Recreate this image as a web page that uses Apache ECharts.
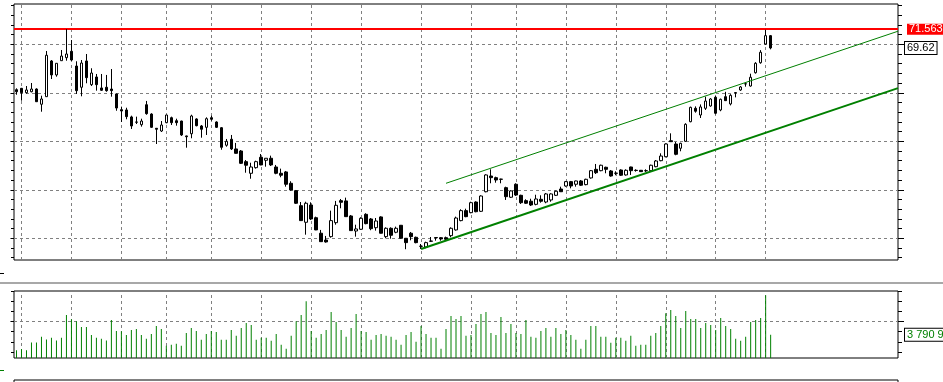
<!DOCTYPE html>
<html><head><meta charset="utf-8">
<script src="https://cdn.jsdelivr.net/npm/echarts@6/dist/echarts.min.js"></script>
<style>html,body{margin:0;padding:0;background:#fff;}#c{width:943px;height:382px;}</style>
</head><body><div id="c"></div>
<script>
// ---- data ----
const opens = [65.32,65.46,65.01,65.11,65.39,63.82,64.60,68.28,66.84,68.31,
68.62,69.28,67.76,65.57,68.28,65.84,66.63,65.50,65.57,65.39,
64.88,63.26,63.23,62.51,61.99,61.71,63.77,62.81,61.34,61.06,
61.92,62.43,62.12,62.09,60.55,60.78,62.30,61.58,61.44,62.43,
61.99,61.40,59.59,60.21,59.21,59.00,57.90,56.70,57.28,58.35,
58.04,58.25,57.35,56.70,56.84,55.67,54.91,53.36,51.65,53.43,
52.12,50.52,49.82,50.17,51.61,53.88,53.85,52.30,50.75,50.93,
52.47,51.99,51.09,52.20,50.17,51.03,50.62,51.34,50.00,50.52,
50.10,49.18,49.10,49.69,50.08,50.06,50.06,50.27,50.86,51.82,
52.85,52.64,53.74,52.78,54.80,56.42,56.25,56.10,55.22,54.23,
55.57,54.43,53.88,53.82,53.50,54.02,53.74,53.95,54.43,55.08,
55.39,55.84,55.57,55.91,55.53,56.22,57.11,56.97,57.32,56.94,
56.72,57.04,56.53,57.35,57.01,57.01,56.97,56.97,57.38,58.00,
58.41,60.06,59.72,59.28,60.00,62.02,63.40,62.71,63.40,63.64,
64.54,63.23,64.60,63.85,65.02,65.29,65.91,65.70,67.07,68.10,
70.03,70.89];
const closes = [65.11,65.01,65.29,65.39,64.08,64.36,68.87,66.84,68.04,68.79,
69.00,68.38,65.22,68.07,66.56,67.04,65.84,65.26,65.22,65.22,
63.43,63.12,62.54,61.58,61.97,62.09,62.85,61.44,61.24,61.68,
62.71,61.92,61.92,60.65,60.47,62.61,61.61,61.24,62.33,62.27,
61.44,59.38,60.00,59.21,58.76,57.73,57.53,57.35,57.90,57.56,
58.25,57.56,56.70,56.50,55.57,54.98,53.61,51.82,53.61,51.99,
50.86,49.65,49.62,51.82,53.40,53.71,52.23,50.79,50.96,52.06,
51.51,50.99,51.78,50.52,51.03,50.31,51.03,50.00,49.55,50.17,
49.55,49.17,49.55,49.72,50.06,49.93,49.90,51.03,52.09,52.85,
52.23,53.67,52.74,54.36,56.53,56.25,56.01,56.08,54.29,54.88,
54.46,53.67,53.61,53.43,54.05,53.82,54.57,54.57,54.85,54.80,
55.84,55.39,55.91,55.47,56.08,56.97,56.76,57.53,57.11,56.42,
56.70,56.50,57.01,56.97,56.99,56.87,56.96,57.53,57.97,58.48,
59.72,59.96,58.66,59.79,61.75,63.50,63.10,63.54,64.15,64.36,
62.89,64.33,64.19,64.74,65.00,65.60,65.93,66.60,68.04,69.18,
70.89,69.62];
const lows = [64.80,64.19,64.91,65.05,64.05,63.05,64.58,66.42,66.66,68.29,
68.31,68.28,64.88,64.64,65.98,65.70,65.22,65.19,65.11,64.60,
63.15,61.99,62.27,61.27,61.78,61.51,62.74,61.37,59.72,60.96,
61.86,61.68,61.61,60.55,59.34,60.31,61.54,60.37,60.65,62.12,
61.37,59.13,59.44,59.10,58.74,57.66,56.76,56.14,57.18,57.53,
57.38,57.45,56.60,56.29,55.32,54.91,53.54,51.78,50.37,51.89,
50.84,49.63,49.55,50.06,51.40,53.09,52.20,50.77,50.17,50.86,
51.44,50.83,50.79,50.50,50.00,49.96,50.52,49.98,48.87,49.79,
49.48,48.90,48.97,49.62,49.75,49.75,49.82,50.10,50.79,51.75,
52.17,52.58,52.68,52.71,54.74,55.67,55.73,55.67,53.95,54.16,
54.36,53.54,53.54,53.33,53.40,53.67,53.61,53.77,54.36,54.77,
55.32,55.15,55.32,55.39,55.46,56.15,56.63,56.91,56.70,56.35,
56.50,56.42,56.46,56.53,56.87,56.84,56.84,56.87,57.32,57.94,
58.35,59.93,58.56,58.97,59.93,61.96,62.95,62.40,63.23,63.57,
62.78,63.10,64.15,63.70,64.53,65.20,65.63,65.63,66.98,68.00,
69.96,69.48];
const highs = [65.46,65.50,65.70,66.01,65.46,64.70,69.31,68.38,68.06,69.41,
71.5638,70.44,68.25,68.38,69.00,67.53,66.94,66.94,66.84,67.45,
64.90,63.57,63.46,62.64,62.54,62.33,64.16,62.89,61.37,62.09,
62.73,62.54,62.33,62.12,60.58,62.74,62.37,61.68,62.47,62.64,
62.06,61.47,60.24,60.65,59.83,59.10,58.07,57.79,58.00,58.69,
58.27,58.52,57.56,57.18,56.94,55.88,54.98,53.74,53.77,53.71,
52.23,50.86,50.24,52.85,53.85,54.05,54.19,52.40,51.40,52.17,
52.58,52.09,52.09,52.27,51.13,51.13,51.20,51.37,50.03,50.65,
50.17,49.41,49.65,50.13,50.10,50.13,50.17,51.13,52.23,52.99,
53.05,53.77,53.81,54.43,56.60,57.11,56.35,56.14,55.32,54.95,
55.67,54.49,54.02,54.08,54.49,54.43,54.67,54.64,54.91,55.32,
55.91,55.91,55.94,56.01,56.14,57.04,57.66,57.59,57.38,57.04,
56.91,57.11,57.11,57.38,57.11,57.04,57.11,57.59,58.07,58.76,
59.79,60.82,59.93,59.85,61.86,63.57,63.60,63.80,64.60,64.45,
64.67,64.40,65.10,64.86,65.08,65.70,66.04,66.97,68.16,69.40,
71.50,70.96];
const volumes = [1249000,1459000,1249000,2546000,2546000,3454000,3032000,3292000,2870000,3292000,
7021000,6324000,6000000,5076000,5076000,3778000,3292000,3130000,2870000,6211000,
4427000,4378000,3778000,4589000,4751000,3778000,3130000,3940000,5238000,4751000,
1995000,2157000,2319000,1995000,4103000,4913000,4427000,2968000,3940000,4427000,
4265000,2968000,2968000,4589000,3616000,4913000,5724000,5400000,2968000,3292000,
3292000,2805000,3940000,2157000,1508000,3616000,6000000,7021000,9292000,4427000,
3292000,3940000,4589000,7508000,5886000,4589000,3454000,4913000,7184000,4427000,
4265000,2968000,3778000,3940000,3616000,3454000,2968000,2157000,3778000,4265000,
2643000,5238000,3940000,3292000,3292000,1508000,4751000,6859000,6373000,6859000,
3616000,3778000,5562000,7184000,7508000,4103000,3778000,6697000,4103000,5562000,
4103000,3940000,6211000,3454000,3292000,4427000,4913000,3454000,4913000,3940000,
4589000,3778000,2968000,1508000,2968000,5238000,5238000,3454000,3454000,2481000,
3292000,3292000,2805000,3616000,1995000,2157000,2157000,3616000,4103000,5238000,
7297000,7832000,6859000,4913000,7670000,6373000,6373000,4913000,5724000,5400000,
4589000,6535000,5238000,4751000,3130000,2805000,3454000,5886000,6211000,6535000,
10265000,3790900];
const totalSlots = 177;                  // bar slots on the time axis (152 bars + empty space)
const gridBars = [1,11,21,30,39,49,59,69,81,91,100,110,120,130,140,150];
const priceMajorTicks = [50,55,60,65,70];
const priceMinorTicks = [48,49,50,51,52,53,54,55,56,57,58,59,60,61,62,63,64,65,66,67,68,69,70,71,72,73,74];
const priceMin = 47.76, priceMax = 74.155;
const volumeMajorTicks = [6000000];
const volumeMinorTicks = [980000,2620000,4370000,6000000,7640000,9270000,10910000];
const volumeMax = 10950000;
const resistanceLevel = 71.5638;
const supportLine = [[81, 48.90],[176.5, 65.48]];
const channelLine = [[86, 55.67],[176.5, 71.35]];

// ---- build chart ----
const cats = Array.from({length: totalSlots}, (_, i) => String(i));
const candleData = opens.map((o, i) => [o, closes[i], lows[i], highs[i]]);
const lastPrice = closes[closes.length - 1];
const lastVolume = volumes[volumes.length - 1];
const FONT = "'Liberation Sans','Arimo',Arial,sans-serif";
const dashStyle = {color:'#808080', width:1, type:[3,3]};
const hiddenLine = {color:'rgba(0,0,0,0)', width:1, type:'solid'};

function tickAxis(gridIndex, position, min, max, values, len) {
  return {type:'value', gridIndex, position, min, max,
    axisLine:{show:false}, splitLine:{show:false}, axisLabel:{show:false},
    axisTick:{show:true, length:len, lineStyle:{color:'#000', width:1}, customValues: values}};
}
function hiddenCat(gridIndex, position) {
  return {type:'category', gridIndex, position, data:cats, boundaryGap:true,
    axisLine:{show:false}, axisTick:{show:false}, axisLabel:{show:false}, splitLine:{show:false}};
}
function hiddenVal(gridIndex) {
  return {type:'value', gridIndex, min:-0.5, max:totalSlots - 0.5, show:false, splitLine:{show:false}};
}

const chart = echarts.init(document.getElementById('c'), null, {renderer:'canvas'});
chart.setOption({
  animation:false,
  backgroundColor:'#ffffff',
  grid:[
    {left:14, top:4, width:884, height:256, show:true, borderColor:'#000', borderWidth:1, backgroundColor:'transparent'},
    {left:14, top:291, width:884, height:67, show:true, borderColor:'#000', borderWidth:1, backgroundColor:'transparent'},
    {left:14, top:380, width:884, height:20, show:true, borderColor:'#000', borderWidth:1, backgroundColor:'transparent'}
  ],
  xAxis:[
    hiddenCat(0,'bottom'),
    hiddenVal(0),
    hiddenCat(1,'bottom'),
    hiddenVal(1),
    {type:'category', gridIndex:2, position:'top', data:cats, boundaryGap:true,
      axisLine:{show:false}, axisLabel:{show:false}, splitLine:{show:false},
      axisTick:{show:true, inside:true, length:2, alignWithLabel:true, lineStyle:{color:'#000'},
        interval:(i) => gridBars.indexOf(i) >= 0}}
  ],
  yAxis:[
    tickAxis(0,'left',priceMin,priceMax,priceMajorTicks,6),
    tickAxis(0,'left',priceMin,priceMax,priceMinorTicks,3),
    tickAxis(0,'right',priceMin,priceMax,priceMajorTicks,6),
    tickAxis(0,'right',priceMin,priceMax,priceMinorTicks,4),
    tickAxis(1,'left',0,volumeMax,volumeMajorTicks,6),
    tickAxis(1,'left',0,volumeMax,volumeMinorTicks,3),
    tickAxis(1,'right',0,volumeMax,volumeMajorTicks,6),
    tickAxis(1,'right',0,volumeMax,volumeMinorTicks,4),
    {type:'value', gridIndex:2, show:false}
  ],
  series:[
    // price grid lines
    {type:'line', xAxisIndex:1, yAxisIndex:0, data:[], z:1, silent:true,
      markLine:{symbol:'none', silent:true, animation:false, label:{show:false},
        lineStyle:dashStyle,
        data: priceMajorTicks.map(v => ({yAxis:v})).concat(gridBars.map(i => ({xAxis:i})))}},
    // candles
    {type:'candlestick', xAxisIndex:0, yAxisIndex:0, data:candleData, z:5, barWidth:3,
      itemStyle:{color:'#ffffff', color0:'#000000', borderColor:'#000000', borderColor0:'#000000', borderWidth:1}},
    // last price tag
    {type:'line', xAxisIndex:1, yAxisIndex:0, data:[], z:8, silent:true,
      markLine:{symbol:'none', silent:true, animation:false,
        lineStyle:hiddenLine,
        label:{show:true, position:'end', distance:7, formatter: lastPrice.toFixed(2),
          color:'#000', backgroundColor:'#fff', borderColor:'#000', borderWidth:1,
          fontFamily:FONT, fontSize:11, lineHeight:11, padding:[1,2,0,2]},
        data:[{yAxis:lastPrice}]}},
    // channel lines
    {type:'line', xAxisIndex:1, yAxisIndex:0, data:supportLine, z:6, symbol:'none', silent:true,
      lineStyle:{color:'#008000', width:2}},
    {type:'line', xAxisIndex:1, yAxisIndex:0, data:channelLine, z:6, symbol:'none', silent:true,
      lineStyle:{color:'#008000', width:1}},
    // resistance level
    {type:'line', xAxisIndex:1, yAxisIndex:0, data:[], z:7, silent:true,
      markLine:{symbol:'none', silent:true, animation:false,
        lineStyle:{color:'#ff0000', width:2, type:'solid'},
        label:{show:true, position:'end', distance:9, formatter: resistanceLevel.toFixed(4),
          color:'#fff', backgroundColor:'#ff0000', fontFamily:FONT, fontSize:11, lineHeight:11, padding:[0,1,0,2]},
        data:[{yAxis:resistanceLevel}]}},
    // volume grid lines
    {type:'line', xAxisIndex:3, yAxisIndex:4, data:[], z:1, silent:true,
      markLine:{symbol:'none', silent:true, animation:false, label:{show:false},
        lineStyle:dashStyle,
        data: volumeMajorTicks.map(v => ({yAxis:v})).concat(gridBars.map(i => ({xAxis:i})))}},
    // volume bars
    {type:'bar', xAxisIndex:2, yAxisIndex:4, data:volumes, barWidth:1, z:5,
      itemStyle:{color:'#008000'}},
    // last volume tag
    {type:'line', xAxisIndex:3, yAxisIndex:4, data:[], z:8, silent:true,
      markLine:{symbol:'none', silent:true, animation:false,
        lineStyle:hiddenLine,
        label:{show:true, position:'end', distance:7,
          formatter: String(lastVolume).replace(/\B(?=(\d{3})+(?!\d))/g, ' '),
          color:'#008000', backgroundColor:'#fff', borderColor:'#000', borderWidth:1,
          fontFamily:FONT, fontSize:11, lineHeight:11, padding:[1,2,0,2]},
        data:[{yAxis:lastVolume}]}}
  ],
  graphic:[
    {type:'rect', shape:{x:0, y:282, width:943, height:2}, style:{fill:'#a8a8a8'}, silent:true},
    {type:'line', shape:{x1:0, y1:273.5, x2:4, y2:273.5}, style:{stroke:'#000', lineWidth:1}, silent:true},
    {type:'line', shape:{x1:0, y1:370.5, x2:4, y2:370.5}, style:{stroke:'#008000', lineWidth:1}, silent:true}
  ]
});
</script>
</body></html>
